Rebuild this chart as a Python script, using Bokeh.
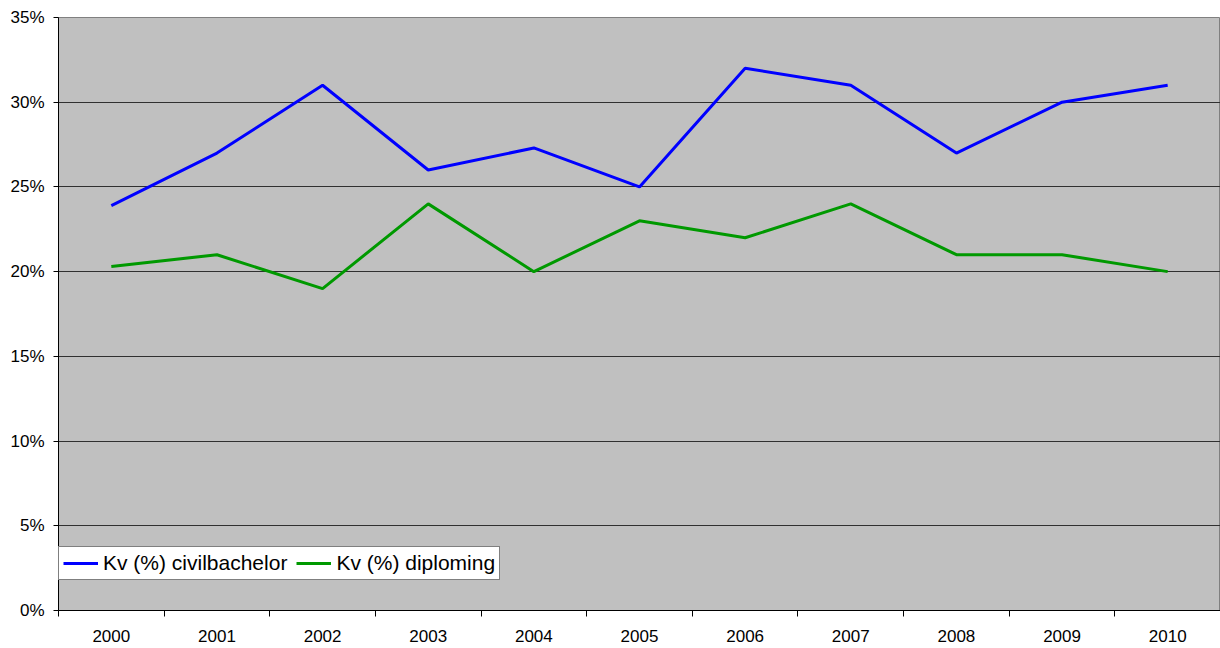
from bokeh.plotting import figure
from bokeh.models import FixedTicker, Legend, LegendItem, Range1d
from bokeh.embed import file_html
from bokeh.resources import INLINE

years = [2000, 2001, 2002, 2003, 2004, 2005, 2006, 2007, 2008, 2009, 2010]
civilbachelor = [23.9, 27.0, 31.0, 26.0, 27.3, 25.0, 32.0, 31.0, 27.0, 30.0, 31.0]
diploming = [20.3, 21.0, 19.0, 24.0, 20.0, 23.0, 22.0, 24.0, 21.0, 21.0, 20.0]
series_names = ["Kv (%) civilbachelor", "Kv (%) diploming"]
y_ticks = [0, 5, 10, 15, 20, 25, 30, 35]

FONT = "Liberation Sans"

p = figure(width=1220, height=648, output_backend="svg", toolbar_location=None,
           x_range=Range1d(years[0] - 0.5, years[-1] + 0.5),
           y_range=Range1d(0, 35),
           min_border_left=58, min_border_right=0, min_border_top=17, min_border_bottom=38)

p.background_fill_color = "#C0C0C0"
p.border_fill_color = "white"
p.outline_line_color = "#808080"
p.outline_line_width = 1

r1 = p.line(years, civilbachelor, line_color="#0000FF", line_width=3)
r2 = p.line(years, diploming, line_color="#009900", line_width=3)

# x axis: labels at centers, tick marks between categories
xa = p.xaxis[0]
xa.ticker = FixedTicker(ticks=years, minor_ticks=[y - 0.5 for y in years] + [years[-1] + 0.5])
xa.major_label_overrides = {y: str(y) for y in years}
xa.major_tick_out = 0
xa.major_tick_in = 0
xa.minor_tick_out = 6
xa.minor_tick_in = 0
xa.minor_tick_line_color = "black"
xa.axis_line_color = "black"
xa.axis_line_width = 1
xa.major_label_standoff = 13
xa.major_label_text_font = FONT
xa.major_label_text_font_size = "17px"
xa.major_label_text_color = "black"

ya = p.yaxis[0]
ya.ticker = FixedTicker(ticks=y_ticks)
ya.major_label_overrides = {t: f"{t}%" for t in y_ticks}
ya.major_tick_out = 5
ya.major_tick_in = 0
ya.minor_tick_out = 0
ya.minor_tick_in = 0
ya.major_tick_line_color = "black"
ya.axis_line_color = "black"
ya.major_label_standoff = 9
ya.major_label_text_font = FONT
ya.major_label_text_font_size = "17px"
ya.major_label_text_color = "black"

p.xgrid.visible = False
p.ygrid.ticker = FixedTicker(ticks=y_ticks)
p.ygrid.grid_line_color = "#303030"
p.ygrid.grid_line_width = 1

legend = Legend(items=[LegendItem(label=series_names[0], renderers=[r1]),
                       LegendItem(label=series_names[1], renderers=[r2])],
                orientation="horizontal", location=(0, 30), margin=0,
                padding=4, spacing=9, glyph_width=35, glyph_height=22,
                label_standoff=5,
                label_text_font=FONT, label_text_font_size="21px",
                label_text_color="black",
                border_line_color="black", border_line_width=1,
                background_fill_color="white", background_fill_alpha=1.0)
p.add_layout(legend, "center")

open("out.html", "w").write(file_html(p, INLINE))
